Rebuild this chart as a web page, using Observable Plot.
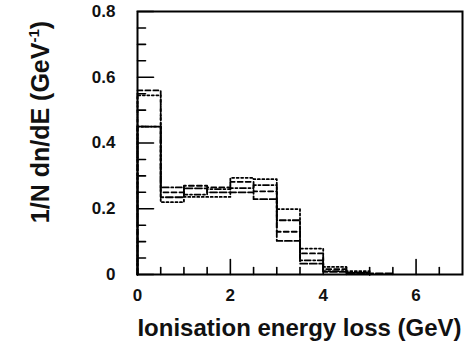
<!DOCTYPE html>
<html><head><meta charset="utf-8">
<script src="https://cdn.jsdelivr.net/npm/d3@7"></script>
<script src="https://cdn.jsdelivr.net/npm/@observablehq/plot@0.6"></script>
<style>
body{margin:0;background:#fff}
svg{display:block}
#wrap{position:relative;width:467px;height:347px;overflow:hidden;font-family:'Liberation Sans',Arial,sans-serif;color:#111}
#xtitle{position:absolute;left:137px;width:325px;top:316px;text-align:center;font-size:24px;line-height:24px;font-weight:bold;white-space:nowrap}
#ytitle{position:absolute;left:42px;top:122px;transform:translate(-50%,-50%) rotate(-90deg);font-size:25px;line-height:25px;font-weight:bold;white-space:nowrap}
#ytitle span{font-size:15px;position:relative;top:-10px}
</style>
</head><body><div id="wrap"><div id="chart"></div><div id="xtitle"></div><div id="ytitle"></div></div>
<script>
// Bin edges (GeV) and normalised histogram contents per bin
const binEdges = [0, 0.5, 1, 1.5, 2, 2.5, 3, 3.5, 4, 4.5, 5, 5.5];
const dashedValues   = [0.56, 0.25, 0.27, 0.265, 0.282, 0.253, 0.13, 0.064, 0.016, 0.006];
const dottedValues   = [0.545, 0.22, 0.236, 0.236, 0.294, 0.29, 0.199, 0.079, 0.023, 0.01];
const dashDotValues  = [0.45, 0.265, 0.243, 0.26, 0.263, 0.272, 0.165, 0.043, 0.01, 0.005];
const longDashValues = [0.45, 0.235, 0.262, 0.25, 0.25, 0.229, 0.102, 0.033, 0.008, 0.004, 0.003];

const xTickValues = [0, 2, 4, 6];
const xMinorTicks = [0.5, 1, 1.5, 2.5, 3, 3.5, 4.5, 5, 5.5, 6.5];
const yTickValues = [0, 0.2, 0.4, 0.6, 0.8];
const yMinorTicks = [0.05, 0.1, 0.15, 0.25, 0.3, 0.35, 0.45, 0.5, 0.55, 0.65, 0.7, 0.75];

const xTitle = "Ionisation energy loss (GeV)";
const yTitleMain = "1/N dn/dE (GeV";
const yTitleSup = "-1";
const yTitleEnd = ")";

const xDomain = [0, 7], yDomain = [0, 0.8];

function steps(values) {
  const pts = [{x: binEdges[0], y: 0}];
  values.forEach((v, i) => pts.push({x: binEdges[i], y: v}));
  pts.push({x: binEdges[values.length], y: 0});
  return pts;
}

const W = 467, H = 347, mL = 137, mR = 5, mT = 11, mB = 73;
const pw = W - mL - mR, ph = H - mT - mB;
// tick lengths (pixels) converted to data units
const xLen = px => px / pw * (xDomain[1] - xDomain[0]);
const yLen = px => px / ph * (yDomain[1] - yDomain[0]);

// inward tick segments built from the tick arrays
const tickSegments = [];
yMinorTicks.forEach(v => tickSegments.push({id: "ym" + v, x: xDomain[0], y: v}, {id: "ym" + v, x: xDomain[0] + xLen(8), y: v}));
yTickValues.forEach(v => tickSegments.push({id: "yM" + v, x: xDomain[0], y: v}, {id: "yM" + v, x: xDomain[0] + xLen(16), y: v}));
xMinorTicks.forEach(v => tickSegments.push({id: "xm" + v, x: v, y: yDomain[0]}, {id: "xm" + v, x: v, y: yDomain[0] + yLen(7)}));
xTickValues.forEach(v => tickSegments.push({id: "xM" + v, x: v, y: yDomain[0]}, {id: "xM" + v, x: v, y: yDomain[0] + yLen(15)}));

const lineStyle = {x: "x", y: "y", curve: "step-after", stroke: "#000", strokeWidth: 1.8};

const chart = Plot.plot({
  width: W, height: H,
  marginLeft: mL, marginRight: mR, marginTop: mT, marginBottom: mB,
  style: {fontFamily: "'Liberation Sans', Arial, sans-serif", background: "#fff", color: "#000"},
  x: {domain: xDomain},
  y: {domain: yDomain},
  marks: [
    Plot.line(steps(longDashValues), {...lineStyle, strokeDasharray: "7,2.5"}),
    Plot.line(steps(dashDotValues), {...lineStyle, strokeDasharray: "6,2.5,2,2.5"}),
    Plot.line(steps(dottedValues), {...lineStyle, strokeDasharray: "2,2.5"}),
    Plot.line(steps(dashedValues), {...lineStyle, strokeDasharray: "5,3"}),
    Plot.line(tickSegments, {x: "x", y: "y", z: "id", stroke: "#000", strokeWidth: 1.6}),
    Plot.frame({stroke: "#000", strokeWidth: 2}),
    Plot.axisY(yTickValues, {tickSize: 0, tickPadding: 22, fontSize: 17, fontWeight: "bold", fill: "#111",
      tickFormat: d => d === 0 ? "0" : d.toFixed(1), label: null}),
    Plot.axisX(xTickValues, {tickSize: 0, tickPadding: 14, fontSize: 17, fontWeight: "bold", fill: "#111",
      tickFormat: d => String(d), label: null})
  ]
});
document.getElementById("chart").appendChild(chart);

document.getElementById("xtitle").textContent = xTitle;
const yEl = document.getElementById("ytitle");
yEl.appendChild(document.createTextNode(yTitleMain));
const sup = document.createElement("span");
sup.textContent = yTitleSup;
yEl.appendChild(sup);
yEl.appendChild(document.createTextNode(yTitleEnd));
</script>
</body></html>
